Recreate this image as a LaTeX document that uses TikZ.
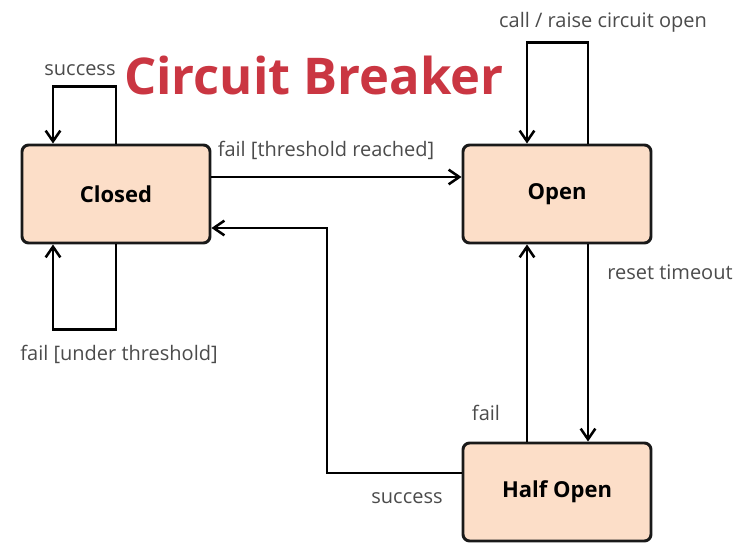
\documentclass[tikz,border=0pt]{standalone}
\usepackage{fontspec}
\setmainfont{Open Sans}
\usetikzlibrary{arrows.meta}
\definecolor{peach}{RGB}{252,222,200}
\definecolor{titlered}{RGB}{202,54,66}
\definecolor{labelgray}{RGB}{75,75,75}
\begin{document}
\begin{tikzpicture}[x=0.75pt,y=0.75pt,
    state/.style={rectangle,rounded corners=5pt,draw=black!90,line width=2.2pt,fill=peach,
      minimum width=141pt,minimum height=73.5pt,font=\fontsize{16.5}{19}\selectfont\bfseries},
    lbl/.style={text=labelgray,font=\fontsize{15}{17}\selectfont,inner sep=0pt},
    trans/.style={line width=1.9pt,-{Straight Barb[length=8pt,width=11pt,line width=1.9pt]}}]

        \useasboundingbox (0,0) rectangle (756,550);

        \begin{scope}[every node/.style={state}]
          \node (c) at (116,356) {Closed};
          \node (o) at (557,356) {Open};
          \node (h) at (557,58)  {Half Open};
        \end{scope}

        \node[text=titlered,font=\fontsize{38}{44}\selectfont\bfseries] (t) at (314,474) {Circuit Breaker};

        \begin{scope}[every node/.style={lbl}]
          \node (l1) at (80,480)  {success};
          \node (l2) at (119,196) {fail [under threshold]};
          \node (l3) at (603,528) {call / raise circuit open};
          \node (l4) at (326,400) {fail [threshold reached]};
          \node (l5) at (670,278) {reset timeout};
          \node (l6) at (486,137) {fail};
          \node (l7) at (407,52)  {success};
        \end{scope}

        \begin{scope}[every path/.style={trans}]
          \draw (c.north) -- ++(0,57) -| ([xshift=-63*0.75pt]c.north);
          \draw (c.south) -- ++(0,-85) -| ([xshift=-63*0.75pt]c.south);
          \draw ([xshift=31*0.75pt]o.north) -- ++(0,101) -| ([xshift=-30*0.75pt]o.north);
          \draw ([yshift=17*0.75pt]c.east) -- ([yshift=17*0.75pt]c.east -| o.west);
          \draw ([yshift=19*0.75pt]h.west) -| (327,322) -- ([yshift=-34*0.75pt]c.east);
          \draw ([xshift=31*0.75pt]o.south) -- ([xshift=31*0.75pt]h.north);
          \draw ([xshift=-30*0.75pt]h.north) -- ([xshift=-30*0.75pt]o.south);
        \end{scope}

      \end{tikzpicture}
\end{document}
